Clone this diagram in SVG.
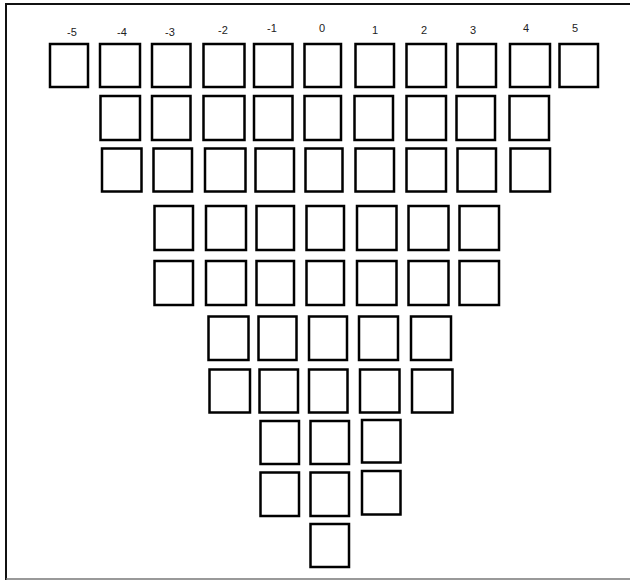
<svg xmlns="http://www.w3.org/2000/svg" width="630" height="580" viewBox="0 0 630 580">
<style>
.b{fill:#fff;stroke:#000;stroke-width:2.5}
.t{font-family:"Liberation Sans",Arial,sans-serif;font-size:11px;fill:#222;text-anchor:middle}
</style>
<rect x="0" y="0" width="630" height="580" fill="#fff"/>
<line x1="6" y1="4" x2="630" y2="4" stroke="#111" stroke-width="2"/>
<line x1="6" y1="3" x2="6" y2="580" stroke="#111" stroke-width="2"/>
<line x1="6" y1="579" x2="630" y2="579" stroke="#777" stroke-width="1.5"/>
<g id="labels">
<text class="t" x="72" y="36">-5</text>
<text class="t" x="122" y="36">-4</text>
<text class="t" x="170" y="36">-3</text>
<text class="t" x="223" y="34">-2</text>
<text class="t" x="272" y="32">-1</text>
<text class="t" x="322" y="32">0</text>
<text class="t" x="375" y="34">1</text>
<text class="t" x="424" y="34">2</text>
<text class="t" x="473" y="34">3</text>
<text class="t" x="526" y="32">4</text>
<text class="t" x="575" y="32">5</text>
</g>
<g id="row1">
<rect class="b" x="50" y="44" width="38" height="43"/>
<rect class="b" x="100" y="44" width="40" height="43"/>
<rect class="b" x="152" y="44" width="38.5" height="43"/>
<rect class="b" x="203.5" y="44" width="41" height="43"/>
<rect class="b" x="254" y="44" width="38.5" height="43"/>
<rect class="b" x="304.5" y="44" width="36.5" height="43"/>
<rect class="b" x="355.5" y="44" width="38.5" height="43"/>
<rect class="b" x="406.5" y="44" width="39.5" height="43"/>
<rect class="b" x="457.5" y="44" width="38.5" height="43"/>
<rect class="b" x="510" y="44" width="40" height="43"/>
<rect class="b" x="559.5" y="44" width="38.5" height="43"/>
</g>
<g id="row2">
<rect class="b" x="100.5" y="96" width="39.5" height="44"/>
<rect class="b" x="152" y="96" width="38.5" height="44"/>
<rect class="b" x="203.5" y="96" width="41" height="44"/>
<rect class="b" x="254" y="96" width="38.5" height="44"/>
<rect class="b" x="304.5" y="96" width="36.5" height="44"/>
<rect class="b" x="354.5" y="96" width="38.5" height="44"/>
<rect class="b" x="406.5" y="96" width="39.5" height="44"/>
<rect class="b" x="456.5" y="96" width="38.5" height="44"/>
<rect class="b" x="509.5" y="96" width="39.5" height="44"/>
</g>
<g id="row3">
<rect class="b" x="102" y="148.5" width="39.5" height="43"/>
<rect class="b" x="153.5" y="148.5" width="38.5" height="43"/>
<rect class="b" x="205" y="148.5" width="40.5" height="43"/>
<rect class="b" x="255.5" y="148.5" width="38.5" height="43"/>
<rect class="b" x="305.5" y="148.5" width="37" height="43"/>
<rect class="b" x="355.5" y="148.5" width="38.5" height="43"/>
<rect class="b" x="406.5" y="148.5" width="39.5" height="43"/>
<rect class="b" x="457.5" y="148.5" width="38.5" height="43"/>
<rect class="b" x="510.5" y="148.5" width="39.5" height="43"/>
</g>
<g id="row4">
<rect class="b" x="154.5" y="206" width="38.5" height="44"/>
<rect class="b" x="206" y="206" width="40" height="44"/>
<rect class="b" x="256.5" y="206" width="37.5" height="44"/>
<rect class="b" x="306.5" y="206" width="37.5" height="44"/>
<rect class="b" x="357" y="206" width="39.5" height="44"/>
<rect class="b" x="408.5" y="206" width="40" height="44"/>
<rect class="b" x="459.5" y="206" width="39.5" height="44"/>
</g>
<g id="row5">
<rect class="b" x="154.5" y="261" width="38.5" height="44"/>
<rect class="b" x="206" y="261" width="40" height="44"/>
<rect class="b" x="256.5" y="261" width="37.5" height="44"/>
<rect class="b" x="306.5" y="261" width="37.5" height="44"/>
<rect class="b" x="357" y="261" width="39.5" height="44"/>
<rect class="b" x="408.5" y="261" width="40" height="44"/>
<rect class="b" x="459.5" y="261" width="39.5" height="44"/>
</g>
<g id="row6">
<rect class="b" x="208.5" y="316.5" width="40" height="43.5"/>
<rect class="b" x="258.5" y="316.5" width="38" height="43.5"/>
<rect class="b" x="309" y="316.5" width="38" height="43.5"/>
<rect class="b" x="359" y="316.5" width="39" height="43.5"/>
<rect class="b" x="411" y="316.5" width="40" height="43.5"/>
</g>
<g id="row7">
<rect class="b" x="209.5" y="369.5" width="40.5" height="43"/>
<rect class="b" x="259.5" y="369.5" width="38.5" height="43"/>
<rect class="b" x="309" y="369.5" width="38.5" height="43"/>
<rect class="b" x="360" y="369.5" width="39.5" height="43"/>
<rect class="b" x="412" y="369.5" width="40.5" height="43"/>
</g>
<g id="row8">
<rect class="b" x="260.5" y="421" width="38.5" height="43"/>
<rect class="b" x="310.5" y="421" width="38.5" height="43"/>
<rect class="b" x="362" y="420" width="38.5" height="42.5"/>
</g>
<g id="row9">
<rect class="b" x="260.5" y="472.5" width="38.5" height="43.5"/>
<rect class="b" x="310.5" y="472.5" width="38.5" height="43.5"/>
<rect class="b" x="362" y="471" width="38.5" height="43.5"/>
</g>
<g id="row10">
<rect class="b" x="310.5" y="524" width="38.5" height="43"/>
</g>
</svg>
